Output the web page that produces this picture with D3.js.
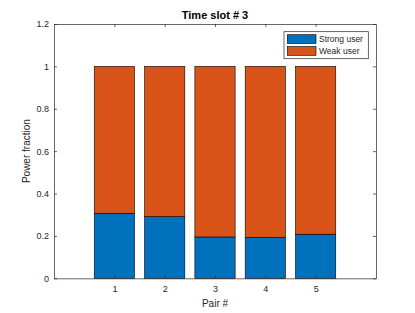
<!DOCTYPE html>
<html>
<head>
<meta charset="utf-8">
<script src="https://cdn.jsdelivr.net/npm/d3@7"></script>
<style>
  body { margin: 0; background: #fff; }
  text { font-family: "Liberation Sans", Arial, sans-serif; }
</style>
</head>
<body>
<svg id="canvas"></svg>
<script>
// stacked bars, time slot 3
let pairs = [1, 2, 3, 4, 5]
let strongUser = [0.307, 0.291, 0.195, 0.193, 0.208]
let weakUser = strongUser.map(v => 1 - v)
let seriesNames = ['Strong user', 'Weak user']
let yTicks = [0, 0.2, 0.4, 0.6, 0.8, 1, 1.2]

let width = 415
let height = 313
let plotLeft = 54, plotRight = 376, plotTop = 24, plotBottom = 278.3

let colors = ['#0072BD', '#D95319']
let axisColor = '#262626'

let svg = d3.select('#canvas')
            .attr('width', width)
            .attr('height', height)

let x = d3.scaleLinear().domain([-0.2, 6.2]).range([plotLeft, plotRight])
let y = d3.scaleLinear().domain([0, 1.2]).range([plotBottom, plotTop])
let barW = x(0.8) - x(0)

// bars
let rows = pairs.map((p, i) => ({ pair: p, strong: strongUser[i], weak: weakUser[i] }))
let stack = d3.stack().keys(['strong', 'weak'])(rows)

svg.append('g')
   .selectAll('g')
   .data(stack)
   .enter()
   .append('g')
   .attr('fill', (d, i) => colors[i])
   .selectAll('rect')
   .data(d => d)
   .enter()
   .append('rect')
   .attr('x', d => x(d.data.pair) - barW / 2)
   .attr('width', barW)
   .attr('y', d => y(d[1]))
   .attr('height', d => y(d[0]) - y(d[1]))
   .attr('stroke', '#000')
   .attr('stroke-width', 0.6)

// axes (ticks inward, mirrored)
let fmt = d => String(d)
let axisStyle = g => {
    g.select('.domain').attr('stroke', axisColor).attr('stroke-width', 0.7)
    g.selectAll('.tick line').attr('stroke', axisColor).attr('stroke-width', 0.7)
    g.selectAll('text').attr('fill', axisColor).style('font-size', '9px')
}

svg.append('g')
   .attr('transform', `translate(0,${plotBottom})`)
   .call(d3.axisBottom(x).tickValues(pairs).tickSize(-3).tickSizeOuter(0).tickPadding(7).tickFormat(fmt))
   .call(axisStyle)

svg.append('g')
   .attr('transform', `translate(0,${plotTop})`)
   .call(d3.axisTop(x).tickValues(pairs).tickSize(-3).tickSizeOuter(0).tickFormat(''))
   .call(axisStyle)

svg.append('g')
   .attr('transform', `translate(${plotLeft},0)`)
   .call(d3.axisLeft(y).tickValues(yTicks).tickSize(-3).tickSizeOuter(0).tickPadding(5).tickFormat(fmt))
   .call(axisStyle)

svg.append('g')
   .attr('transform', `translate(${plotRight},0)`)
   .call(d3.axisRight(y).tickValues(yTicks).tickSize(-3).tickSizeOuter(0).tickFormat(''))
   .call(axisStyle)

// labels
svg.append('text')
   .attr('x', (plotLeft + plotRight) / 2)
   .attr('y', 19)
   .attr('text-anchor', 'middle')
   .style('font-size', '11px')
   .style('font-weight', 'bold')
   .attr('fill', '#000')
   .text('Time slot # 3')

svg.append('text')
   .attr('x', (plotLeft + plotRight) / 2)
   .attr('y', 307)
   .attr('text-anchor', 'middle')
   .style('font-size', '10px')
   .attr('fill', axisColor)
   .text('Pair #')

svg.append('text')
   .attr('transform', `translate(30,${(plotTop + plotBottom) / 2}) rotate(-90)`)
   .attr('text-anchor', 'middle')
   .style('font-size', '10px')
   .attr('fill', axisColor)
   .text('Power fraction')

// legend
let legend = svg.append('g').attr('transform', 'translate(284,31.7)')
legend.append('rect')
      .attr('width', 84.3)
      .attr('height', 27)
      .attr('fill', '#fff')
      .attr('stroke', axisColor)
      .attr('stroke-width', 0.7)

seriesNames.forEach((name, i) => {
    legend.append('rect')
          .attr('x', 3.3)
          .attr('y', 3 + i * 11.8)
          .attr('width', 28.7)
          .attr('height', 8.8)
          .attr('fill', colors[i])
          .attr('stroke', '#000')
          .attr('stroke-width', 0.6)
    legend.append('text')
          .attr('x', 35)
          .attr('y', 10.5 + i * 11.8)
          .style('font-size', '8.5px')
          .attr('fill', axisColor)
          .text(name)
})
</script>
</body>
</html>
